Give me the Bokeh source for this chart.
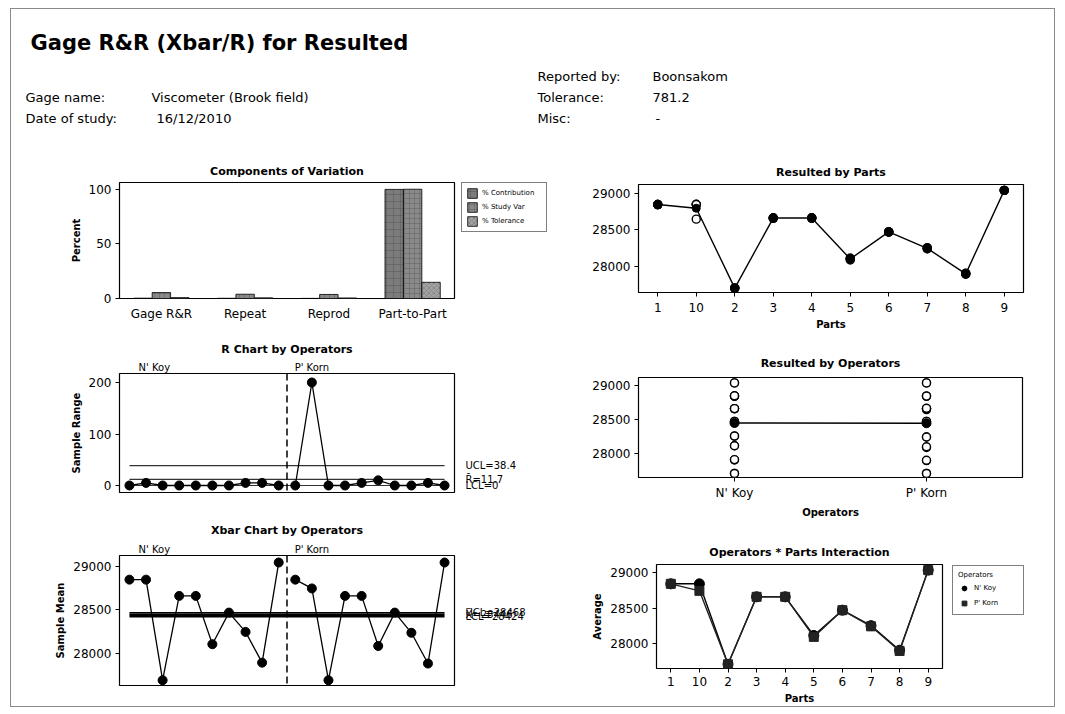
from bokeh.plotting import figure
from bokeh.layouts import column, row
from bokeh.models import (Range1d, FactorRange, LinearAxis, FixedTicker, Span,
                          Legend, ColumnDataSource, Spacer)
from bokeh.transform import dodge
from bokeh.core.properties import value
from bokeh.embed import file_html
from bokeh.resources import INLINE

# ---------------- data ----------------
report_title = "Gage R&R (Xbar/R) for Resulted"
header_left_keys = ["Gage name:", "Date of study:"]
header_left_vals = ["Viscometer (Brook field)", "16/12/2010"]
header_right_keys = ["Reported by:", "Tolerance:", "Misc:"]
header_right_vals = ["Boonsakom", "781.2", "-"]

components = ["Gage R&R", "Repeat", "Reprod", "Part-to-Part"]
pct_contribution = [0.3, 0.2, 0.1, 99.7]
pct_study_var = [5.4, 3.9, 3.7, 99.85]
pct_tolerance = [0.8, 0.6, 0.5, 14.8]
component_series = ["% Contribution", "% Study Var", "% Tolerance"]

operators = ["N' Koy", "P' Korn"]
parts = ["1", "10", "2", "3", "4", "5", "6", "7", "8", "9"]

r_nkoy = [0, 5, 0, 0, 0, 0, 0, 5, 5, 0]
r_pkorn = [0, 200, 0, 0, 5, 10, 0, 0, 5, 0]
r_ucl, r_bar, r_lcl = 38.4, 11.7, 0
r_labels = ["UCL=38.4", "R\u0304=11.7", "LCL=0"]

xbar_nkoy = [28845, 28845, 27700, 28660, 28660, 28110, 28470, 28250, 27900, 29040]
xbar_pkorn = [28845, 28745, 27700, 28660, 28660, 28090, 28470, 28240, 27890, 29040]
x_ucl, x_bar, x_lcl = 28468, 28446, 28424
x_labels = ["UCL=28468", "X\u0304=28446", "LCL=28424"]

nkoy_trial1 = [28845, 28845, 27700, 28660, 28660, 28110, 28470, 28250, 27900, 29040]
nkoy_trial2 = [28845, 28850, 27700, 28660, 28660, 28110, 28470, 28255, 27905, 29040]
pkorn_trial1 = [28845, 28845, 27700, 28660, 28660, 28085, 28470, 28240, 27890, 29040]
pkorn_trial2 = [28845, 28645, 27700, 28660, 28665, 28095, 28470, 28240, 27895, 29040]
part_means = [28845, 28795, 27700, 28660, 28660, 28100, 28470, 28245, 27895, 29040]
operator_means = [28447, 28443]

mean_ticks = [28000, 28500, 29000]

# ---------------- styling helpers ----------------
FONT = "DejaVu Sans"
Y_RANGE = (27640, 29120)
NAN = float("nan")

BAR_STYLES = [
    dict(fill_color="#7c7c7c", hatch_pattern="+", hatch_color="#5c5c5c", hatch_scale=7),
    dict(fill_color="#8a8a8a", hatch_pattern="+", hatch_color="#666666", hatch_scale=5),
    dict(fill_color="#a3a3a3", hatch_pattern="x", hatch_color="#777777", hatch_scale=5),
]


def style_axis(ax, show_ticks=True):
    ax.axis_line_color = None
    ax.major_tick_line_color = "black" if show_ticks else None
    ax.major_tick_out = 4
    ax.major_tick_in = 0
    ax.minor_tick_line_color = None
    ax.major_label_text_font = FONT
    ax.major_label_text_font_size = "12px"
    ax.major_label_text_color = "black"
    ax.axis_label_text_font = FONT
    ax.axis_label_text_font_size = "10px"
    ax.axis_label_text_font_style = "bold"
    ax.axis_label_text_color = "black"
    ax.major_label_standoff = 4
    ax.axis_label_standoff = 4


def base(size, borders, x_range, y_range, title, title_standoff, **kw):
    left, right, top, bottom = borders
    p = figure(width=size[0], height=size[1], x_range=x_range, y_range=y_range,
               output_backend="svg", toolbar_location=None, frame_align=False,
               min_border_left=left, min_border_right=right,
               min_border_top=top, min_border_bottom=bottom, **kw)
    p.title.text = title
    p.title.align = "center"
    p.title.text_font = FONT
    p.title.text_font_size = "11px"
    p.title.text_font_style = "bold"
    p.title.text_color = "black"
    p.title.standoff = title_standoff
    p.outline_line_color = "black"
    p.outline_line_width = 1.2
    p.grid.visible = False
    p.background_fill_color = "white"
    p.border_fill_color = "white"
    for ax in p.axis:
        style_axis(ax)
    return p


def legend_panel(size, left, top):
    p = figure(width=size[0], height=size[1], x_range=Range1d(0, 1), y_range=Range1d(0, 1),
               output_backend="svg", toolbar_location=None, frame_align=False,
               min_border_left=left, min_border_top=top, min_border_right=0,
               min_border_bottom=0, x_axis_location=None, y_axis_location=None)
    p.outline_line_color = None
    p.grid.visible = False
    return p


def small_legend(items, **kw):
    leg = Legend(items=items, location="top_left", **kw)
    leg.label_text_font = FONT
    leg.label_text_font_size = "7px"
    leg.label_text_color = "black"
    leg.label_standoff = 4
    leg.spacing = 2
    leg.margin = 0
    leg.border_line_color = "black"
    leg.border_line_width = 1
    return leg


def limit_axis(p, ticks, labels):
    ax = LinearAxis(ticker=FixedTicker(ticks=ticks),
                    major_label_overrides={t: l for t, l in zip(ticks, labels)})
    style_axis(ax, show_ticks=False)
    ax.major_label_standoff = 7
    ax.major_label_text_font_size = "10px"
    p.add_layout(ax, "right")


def operator_axis(p, ticks):
    ax = LinearAxis(ticker=FixedTicker(ticks=ticks),
                    major_label_overrides={t: l for t, l in zip(ticks, operators)})
    style_axis(ax, show_ticks=False)
    ax.major_label_standoff = -3
    ax.major_label_text_font_size = "10px"
    p.add_layout(ax, "above")


# ---------------- header ----------------
hdr = figure(width=1043, height=146, x_range=Range1d(0, 1043), y_range=Range1d(146, 0),
             output_backend="svg", toolbar_location=None, min_border=0, frame_align=False,
             x_axis_location=None, y_axis_location=None)
hdr.outline_line_color = None
hdr.grid.visible = False
hdr.text(x=[19], y=[33], text=[report_title], text_font=value(FONT),
         text_font_size="21px", text_font_style="bold", text_baseline="middle",
         text_color="black")
hdr.text(x=[14, 14], y=[88, 109], text=header_left_keys, text_font=value(FONT),
         text_font_size="13px", text_baseline="middle", text_color="black")
hdr.text(x=[140, 145], y=[88, 109], text=header_left_vals, text_font=value(FONT),
         text_font_size="13px", text_baseline="middle", text_color="black")
hdr.text(x=[526, 526, 526], y=[67, 88, 109], text=header_right_keys, text_font=value(FONT),
         text_font_size="13px", text_baseline="middle", text_color="black")
hdr.text(x=[641, 641, 644], y=[67, 88, 109], text=header_right_vals, text_font=value(FONT),
         text_font_size="13px", text_baseline="middle", text_color="black")

# ---------------- Components of Variation ----------------
pA = base((445, 175), (108, 2, 27, 32), FactorRange(*components), Range1d(0, 106),
          "Components of Variation", 9, y_axis_label="Percent")
pA.yaxis.ticker = FixedTicker(ticks=[0, 50, 100])
pA.xaxis.major_tick_line_color = None
srcA = ColumnDataSource(dict(cat=components, c=pct_contribution, s=pct_study_var, t=pct_tolerance))
for col, off, st in zip(["c", "s", "t"], [-0.22, 0.0, 0.22], BAR_STYLES):
    pA.vbar(x=dodge("cat", off, range=pA.x_range), top=col, width=0.22, source=srcA,
            line_color="black", line_width=0.8, hatch_weight=0.6, **st)

# legend lives in its own small panel (swatch-only renderers hold no drawable data)
legA_fig = legend_panel((104, 175), 5, 27)
swatch_bar = ColumnDataSource(dict(x=[NAN], top=[NAN]))
legA_items = []
for name, st in zip(component_series, BAR_STYLES):
    rr = legA_fig.vbar(x="x", top="top", width=0.1, source=swatch_bar, line_color="black",
                       line_width=0.8, hatch_weight=0.6, **st)
    legA_items.append((name, [rr]))
legA = small_legend(legA_items)
legA.glyph_width = 12
legA.glyph_height = 12
legA.label_height = 12
legA.label_width = 60
legA.padding = 4
legA_fig.add_layout(legA, "center")

# ---------------- R chart ----------------
idx_nkoy = list(range(1, len(r_nkoy) + 1))
idx_pkorn = list(range(len(r_nkoy) + 1, len(r_nkoy) + len(r_pkorn) + 1))
split = len(r_nkoy) + 0.5
span_x = [idx_nkoy[0], idx_pkorn[-1]]

pB = base((549, 180), (108, 106, 43, 18), Range1d(0.4, 20.6), Range1d(-13.6, 217.5),
          "R Chart by Operators", 6, x_axis_location=None, y_axis_label="Sample Range")
pB.yaxis.ticker = FixedTicker(ticks=[0, 100, 200])
for v in (r_ucl, r_bar, r_lcl):
    pB.line(span_x, [v, v], line_color="#333333", line_width=1.2)
pB.add_layout(Span(location=split, dimension="height", line_color="black",
                   line_dash="7 4", line_width=1.5))
for xs, ys in ((idx_nkoy, r_nkoy), (idx_pkorn, r_pkorn)):
    pB.line(xs, ys, line_color="black", line_width=1.3)
    pB.scatter(xs, ys, marker="circle", size=9, fill_color="black", line_color="black")
operator_axis(pB, [2.5, 12])
limit_axis(pB, [r_ucl, r_bar, r_lcl], r_labels)

# ---------------- Xbar chart ----------------
pC = base((549, 196), (108, 106, 45, 21), Range1d(0.4, 20.6), Range1d(*Y_RANGE),
          "Xbar Chart by Operators", 7, x_axis_location=None, y_axis_label="Sample Mean")
pC.yaxis.ticker = FixedTicker(ticks=mean_ticks)
pC.line(span_x, [x_ucl, x_ucl], line_color="black", line_width=1.5)
pC.line(span_x, [x_lcl, x_lcl], line_color="black", line_width=1.5)
pC.line(span_x, [x_bar, x_bar], line_color="black", line_width=2.5)
pC.add_layout(Span(location=split, dimension="height", line_color="black",
                   line_dash="7 4", line_width=1.5))
for xs, ys in ((idx_nkoy, xbar_nkoy), (idx_pkorn, xbar_pkorn)):
    pC.line(xs, ys, line_color="black", line_width=1.3)
    pC.scatter(xs, ys, marker="circle", size=9, fill_color="black", line_color="black")
operator_axis(pC, [2.5, 12])
limit_axis(pC, [x_ucl, x_bar, x_lcl], x_labels)

# ---------------- Resulted by Parts ----------------
pD = base((494, 180), (78, 31, 29, 43), FactorRange(*parts), Range1d(*Y_RANGE),
          "Resulted by Parts", 12, x_axis_label="Parts")
pD.yaxis.ticker = FixedTicker(ticks=mean_ticks)
pD.xaxis.major_label_standoff = 6
for trial in (nkoy_trial1, nkoy_trial2, pkorn_trial1, pkorn_trial2):
    pD.scatter(parts, trial, marker="circle", size=8, fill_color="white",
               line_color="black", line_width=1.4)
pD.line(parts, part_means, line_color="black", line_width=1.4)
pD.scatter(parts, part_means, marker="circle", size=8, fill_color="black", line_color="black")

# ---------------- Resulted by Operators ----------------
pE = base((494, 185), (78, 32, 42, 37), FactorRange(*operators), Range1d(*Y_RANGE),
          "Resulted by Operators", 15, x_axis_label="Operators")
pE.yaxis.ticker = FixedTicker(ticks=mean_ticks)
for op, t1, t2 in ((operators[0], nkoy_trial1, nkoy_trial2), (operators[1], pkorn_trial1, pkorn_trial2)):
    vals = t1 + t2
    pE.scatter([op] * len(vals), vals, marker="circle", size=8, fill_color="white",
               line_color="black", line_width=1.4)
pE.line(operators, operator_means, line_color="black", line_width=1.4)
pE.scatter(operators, operator_means, marker="circle", size=9, fill_color="black", line_color="black")

# ---------------- Operators * Parts Interaction ----------------
pF = base((384, 186), (96, 2, 44, 36), FactorRange(*parts), Range1d(*Y_RANGE),
          "Operators * Parts Interaction", 12, x_axis_label="Parts", y_axis_label="Average")
pF.yaxis.ticker = FixedTicker(ticks=mean_ticks)
pF.line(parts, xbar_nkoy, line_color="black", line_width=1.4)
pF.scatter(parts, xbar_nkoy, marker="circle", size=10, fill_color="black", line_color="black")
pF.line(parts, xbar_pkorn, line_color="#222222", line_width=1.4)
pF.scatter(parts, xbar_pkorn, marker="square", size=9, fill_color="#222222", line_color="#222222")

legF_fig = legend_panel((110, 186), 8, 45)
swatch_pt = ColumnDataSource(dict(x=[NAN], y=[NAN]))
op_markers = [("circle", 10, "black"), ("square", 9, "#222222")]
legF_items = []
for name, (mk, sz, colr) in zip(operators, op_markers):
    rr = legF_fig.scatter(x="x", y="y", source=swatch_pt, marker=mk, size=sz,
                          fill_color=colr, line_color=colr)
    legF_items.append((name, [rr]))
legF = small_legend(legF_items, title="Operators")
legF.title_text_font = FONT
legF.title_text_font_size = "7px"
legF.title_text_font_style = "normal"
legF.title_text_color = "black"
legF.title_standoff = 3
legF.glyph_width = 12
legF.glyph_height = 12
legF.label_height = 12
legF.label_width = 44
legF.spacing = 3
legF.padding = 5
legF_fig.add_layout(legF, "center")

# ---------------- layout ----------------
left_col = column(row(pA, legA_fig), pB, pC)
right_col = column(pD, pE, row(pF, legF_fig))
content = column(hdr, row(left_col, right_col), styles={"border": "1px solid #8a8a8a"})
page = column(Spacer(height=8), row(Spacer(width=10), content))

open("out.html", "w").write(file_html(page, INLINE))
